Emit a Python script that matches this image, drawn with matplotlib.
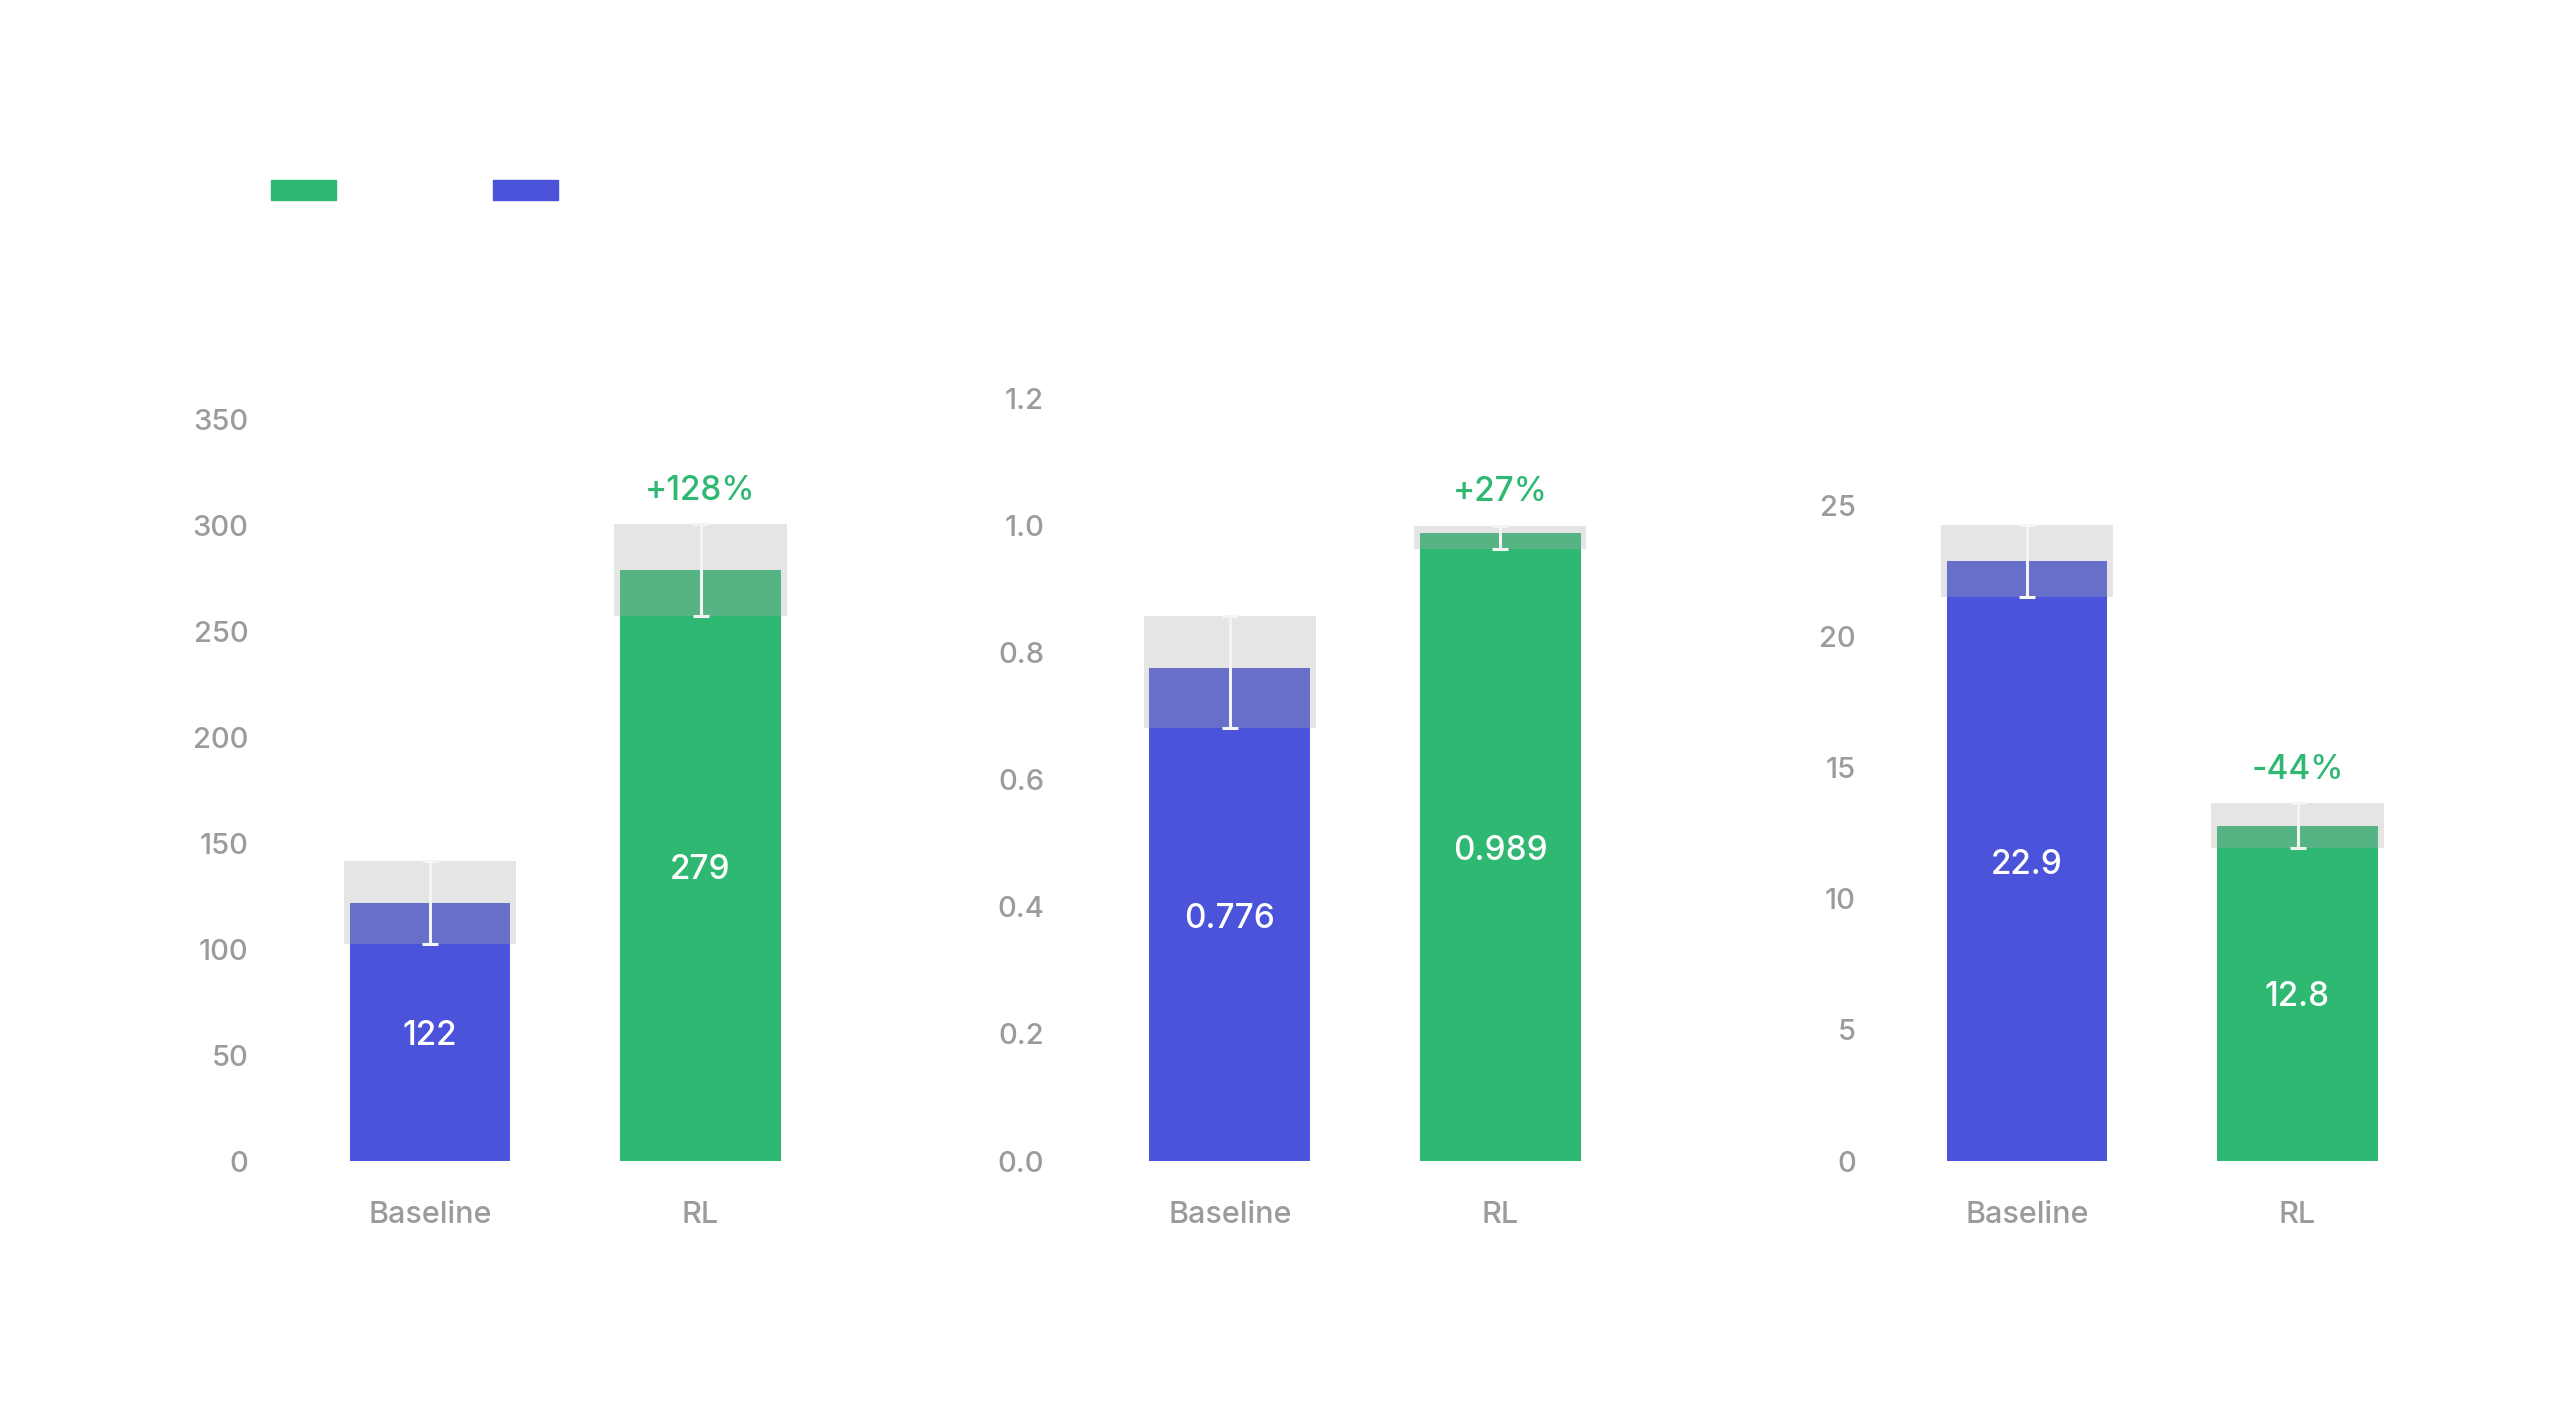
import matplotlib
matplotlib.use("Agg")
import matplotlib.pyplot as plt
from matplotlib.patches import Patch
import numpy as np

plt.rcParams["font.family"] = ["Inter", "DejaVu Sans"]
plt.rcParams["font.weight"] = "medium"

CATEGORIES = ["Baseline", "RL"]

# panel 1
MEAN_1 = [122, 279]
ERR_1 = [19.5, 21.7]
# panel 2 (upper bound of RL clipped at 1.0)
MEAN_2 = [0.776, 0.989]
ERR_LO_2 = [0.094, 0.025]
ERR_HI_2 = [0.082, 0.011]
# panel 3
MEAN_3 = [22.9, 12.8]
ERR_3 = [1.37, 0.85]

CHANGE = ["+128%", "+27%", "-44%"]

TICKS_1 = [0, 50, 100, 150, 200, 250, 300, 350]
TICKS_2 = [0.0, 0.2, 0.4, 0.6, 0.8, 1.0, 1.2]
TICKS_3 = [0, 5, 10, 15, 20, 25]

BLUE = "#4A53D9"
GREEN = "#2FB872"
BAND = "#AEAEAE"
TICK_GREY = "#9B9B9B"

W, H = 2560, 1415
fig = plt.figure(figsize=(W / 100, H / 100), dpi=100)

panels = [
    dict(mean=MEAN_1, lo=ERR_1, hi=ERR_1, ticks=TICKS_1, ylim=360.3,
         fmt="{:.0f}", tfmt="{:.0f}", left=294.75, pad=33.5),
    dict(mean=MEAN_2, lo=ERR_LO_2, hi=ERR_HI_2, ticks=TICKS_2, ylim=1.201,
         fmt="{:.3f}", tfmt="{:.1f}", left=1094.65, pad=36.4),
    dict(mean=MEAN_3, lo=ERR_3, hi=ERR_3, ticks=TICKS_3, ylim=29.12,
         fmt="{:.1f}", tfmt="{:.0f}", left=1891.75, pad=26.0),
]

x = np.arange(len(CATEGORIES))
colors = [BLUE, GREEN]

for p, change in zip(panels, CHANGE):
    ax = fig.add_axes([p["left"] / W, (H - 1161) / H, 541 / W, 763 / H])
    mean = np.asarray(p["mean"], dtype=float)
    lo = np.asarray(p["lo"], dtype=float)
    hi = np.asarray(p["hi"], dtype=float)

    ax.bar(x, mean, width=0.595, color=colors, zorder=2)
    # translucent error band on top of the bars
    ax.bar(x, lo + hi, bottom=mean - lo, width=0.636, color=BAND,
           alpha=0.31, linewidth=0, zorder=3)
    ax.errorbar(x, mean, yerr=[lo, hi], fmt="none", ecolor="#F4F4F4",
                elinewidth=2.2, capsize=6, capthick=2.2, zorder=4)

    for xi, m in zip(x, mean):
        ax.annotate(p["fmt"].format(m), xy=(xi, m / 2), xytext=(0, -3),
                    textcoords="offset points", ha="center", va="center",
                    color="white", fontsize=24, zorder=5)
    ax.annotate(change, xy=(x[1], mean[1] + hi[1]), xytext=(0, 24),
                textcoords="offset points", ha="center", va="center",
                color=GREEN, fontsize=24)

    ax.set_xlim(-0.5, 1.5)
    ax.set_ylim(0, p["ylim"])
    ax.set_xticks(x)
    ax.set_xticklabels(CATEGORIES)
    ax.set_yticks(p["ticks"])
    ax.set_yticklabels([p["tfmt"].format(t) for t in p["ticks"]])
    ax.tick_params(axis="y", length=0, pad=p["pad"], labelsize=21, labelcolor=TICK_GREY)
    ax.tick_params(axis="x", length=0, pad=29, labelsize=22, labelcolor=TICK_GREY)
    for s in ax.spines.values():
        s.set_visible(False)

fig.legend(handles=[Patch(color=GREEN), Patch(color=BLUE)], labels=["", ""],
           ncol=2, loc="upper left", bbox_to_anchor=(271 / W, 1 - 180 / H),
           frameon=False, fontsize=20, handlelength=2.34, handleheight=0.75,
           handletextpad=0, columnspacing=5.65, borderpad=0, borderaxespad=0)

fig.savefig("out.png", dpi=100, facecolor="white")
